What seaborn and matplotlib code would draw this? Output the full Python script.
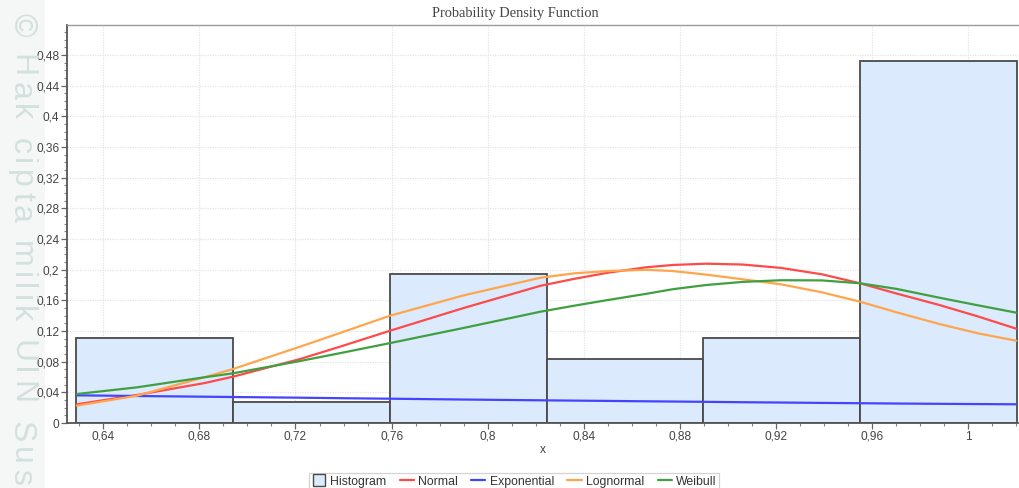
import numpy as np
import pandas as pd
import matplotlib
matplotlib.use("Agg")
import matplotlib.pyplot as plt
from matplotlib.ticker import MultipleLocator, FuncFormatter
from matplotlib.lines import Line2D
from matplotlib.patches import Rectangle
from matplotlib.font_manager import FontProperties, findfont, get_font
import seaborn as sns

# ---- data -------------------------------------------------------------
data_min = 0.6288
data_max = 1.0203
bin_counts = [4, 1, 7, 3, 4, 17]          # observations per bin (n = 36)

# fitted density curves, scaled to the relative-frequency axis
curve_x = [0.629, 0.654, 0.682, 0.694, 0.722, 0.740, 0.759, 0.790, 0.822,
           0.836, 0.850, 0.866, 0.877, 0.891, 0.906, 0.922, 0.939, 0.955,
           0.970, 0.988, 1.004, 1.020]
normal = [0.0244, 0.0365, 0.0520, 0.0604, 0.0835, 0.1010, 0.1200, 0.1500,
          0.1790, 0.1880, 0.1960, 0.2031, 0.2061, 0.2078, 0.2067, 0.2023,
          0.1940, 0.1822, 0.1690, 0.1539, 0.1390, 0.1230]
exponential = [0.0361, 0.0352, 0.0343, 0.0339, 0.0330, 0.0323, 0.0317,
               0.0306, 0.0296, 0.0292, 0.0288, 0.0283, 0.0280, 0.0276,
               0.0271, 0.0267, 0.0262, 0.0258, 0.0254, 0.0250, 0.0247,
               0.0244]
lognormal = [0.0226, 0.0356, 0.0596, 0.0704, 0.0996, 0.1190, 0.1396, 0.1665,
             0.1895, 0.1952, 0.1982, 0.1998, 0.1982, 0.1935, 0.1875, 0.1809,
             0.1705, 0.1582, 0.1445, 0.1291, 0.1170, 0.1073]
weibull = [0.0378, 0.0465, 0.0596, 0.0648, 0.0809, 0.0920, 0.1040, 0.1240,
           0.1452, 0.1530, 0.1604, 0.1685, 0.1745, 0.1800, 0.1840, 0.1862,
           0.1860, 0.1822, 0.1750, 0.1634, 0.1535, 0.1439]

series_names = ["Normal", "Exponential", "Lognormal", "Weibull"]
series_colors = ["#ff4a4a", "#4444ff", "#ffa64d", "#40a040"]
hist_face = "#dbeafc"
hist_edge = "#4a4a4a"

stamp_text = "\u00a9 Hak cipta milik UIN Sus"

# ---- figure -----------------------------------------------------------
sns.set_style("white")
plt.rcParams["font.family"] = ["Liberation Sans", "DejaVu Sans"]

W, H = 1019, 488
fig = plt.figure(figsize=(W / 100, H / 100), dpi=100)
fig.patch.set_facecolor("white")

# pale margin strip with a vertical, letter-spaced copyright stamp
fig.add_artist(Rectangle((0, 0), 45 / W, 1, transform=fig.transFigure,
                         facecolor="#f5f6f6", edgecolor="none", zorder=0))
stamp_size = 23
stamp_font = get_font(findfont(FontProperties(family="Liberation Sans")))
stamp_font.set_size(stamp_size, 100)
y_px = 13.0
for ch in stamp_text:
    glyph = stamp_font.load_char(ord(ch))
    adv = glyph.linearHoriAdvance / 65536
    if ch != " ":
        fig.text(13 / W, 1 - y_px / H, ch, rotation=-90,
                 rotation_mode="anchor", ha="left", va="baseline",
                 fontsize=stamp_size, color="#d3e1de",
                 family=["Liberation Sans", "DejaVu Sans"], zorder=1)
    y_px += adv + 4.4

ax = fig.add_axes([67 / W, 1 - 423 / H, (1018 - 67) / W, (423 - 25) / H])
ax.set_facecolor("none")

edges = [float(e) for e in np.linspace(data_min, data_max, len(bin_counts) + 1)]
centers = [(a + b) / 2 for a, b in zip(edges[:-1], edges[1:])]
total = sum(bin_counts)
hist_df = pd.DataFrame({"x": centers, "w": [c / total for c in bin_counts]})
sns.histplot(data=hist_df, x="x", weights="w", bins=edges, stat="count",
             color=hist_face, edgecolor=hist_edge, linewidth=1.3, alpha=1,
             ax=ax, zorder=2)

curves = pd.DataFrame({"x": curve_x, "Normal": normal,
                       "Exponential": exponential, "Lognormal": lognormal,
                       "Weibull": weibull})
for name, col in zip(series_names, series_colors):
    sns.lineplot(data=curves, x="x", y=name, color=col, linewidth=1.6,
                 ax=ax, zorder=3)

ax.set_xlim(0.6249, 1.0207)
ax.set_ylim(0, 0.5191)
ax.xaxis.set_major_locator(MultipleLocator(0.04))
ax.xaxis.set_minor_locator(MultipleLocator(0.01))
ax.yaxis.set_major_locator(MultipleLocator(0.04))
ax.yaxis.set_minor_locator(MultipleLocator(0.01))

fmt = FuncFormatter(lambda v, p: ("%g" % round(v, 4)).replace(".", ","))
ax.xaxis.set_major_formatter(fmt)
ax.yaxis.set_major_formatter(fmt)

ax.grid(True, which="major", color="#e4e4e4", linestyle=(0, (1, 1)),
        linewidth=0.9, zorder=0)
ax.set_axisbelow(True)
ax.tick_params(which="major", direction="out", length=4, width=0.9,
               color="#666666", labelsize=8.6, labelcolor="#444444", pad=1.5)
ax.tick_params(which="minor", direction="out", length=2, width=0.8,
               color="#888888")
ax.tick_params(axis="x", bottom=True, which="both")
ax.tick_params(axis="y", left=True, which="both")

for side in ["left", "bottom"]:
    ax.spines[side].set_color("#555555")
    ax.spines[side].set_linewidth(1.3)
ax.spines["top"].set_color("#999999")
ax.spines["top"].set_linewidth(1.0)
ax.spines["right"].set_visible(False)

ax.set_xlabel("x", fontsize=8.6, color="#444444", labelpad=1)
ax.set_ylabel("")

fig.text(515 / W, 1 - 14 / H, "Probability Density Function", ha="center",
         va="center", fontsize=10.4, color="#444444",
         family=["Liberation Serif", "DejaVu Serif"])

handles = [Line2D([], [], linestyle="none", marker="s", markersize=8.5,
                  markerfacecolor=hist_face, markeredgecolor=hist_edge,
                  markeredgewidth=1.0, label="Histogram")]
for name, col in zip(series_names, series_colors):
    handles.append(Line2D([0], [0], color=col, linewidth=1.6, label=name))
leg = fig.legend(handles=handles, loc="lower center", ncol=5,
                 bbox_to_anchor=(514 / W, -0.004), frameon=True,
                 fancybox=False, fontsize=8.8, handlelength=1.15,
                 handletextpad=0.35, columnspacing=1.1,
                 borderpad=0.2, borderaxespad=0.0, edgecolor="#c8c8c8")
leg.get_frame().set_linewidth(0.9)
for t in leg.get_texts():
    t.set_color("#333333")

fig.savefig("out.png", dpi=100, facecolor="white")
